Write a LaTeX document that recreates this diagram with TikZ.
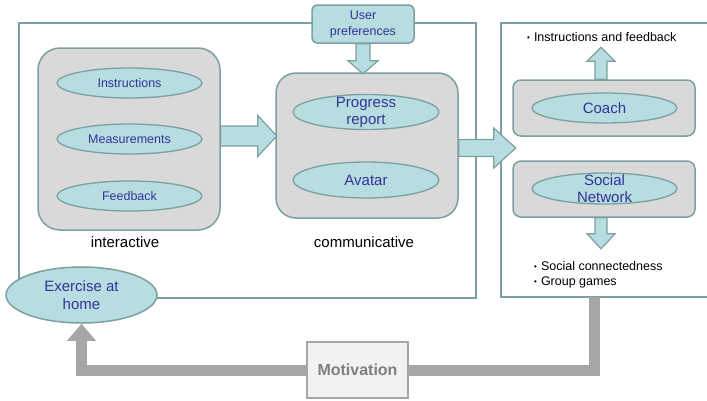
\documentclass[tikz,border=0pt]{standalone}
\usepackage{fontspec}
\setmainfont{Liberation Sans}
\usetikzlibrary{shapes.geometric,arrows.meta}

\definecolor{tealfill}{RGB}{183,221,224}
\definecolor{tealline}{RGB}{122,160,160}
\definecolor{boxgray}{RGB}{217,217,217}
\definecolor{textblue}{RGB}{51,51,153}
\definecolor{motgray}{RGB}{166,166,166}
\definecolor{motfill}{RGB}{242,242,242}
\definecolor{mottext}{RGB}{127,127,127}

\tikzset{
  outerbox/.style={draw=tealline, line width=1.5pt, inner sep=0pt},
  roundbox/.style={draw=tealline, line width=1.5pt, fill=boxgray, rounded corners=#1, inner sep=0pt},
  ell/.style={ellipse, draw=tealline, line width=1.3pt, fill=tealfill, inner sep=0pt,
    minimum width=145pt, minimum height=30pt, text=textblue, font=\fontsize{12.5}{14}\selectfont},
  elltext/.style={text=textblue, align=center, font=\fontsize{15}{17}\selectfont},
  lbl/.style={font=\fontsize{15}{17}\selectfont},
  note/.style={inner sep=0pt, align=left, font=\fontsize{12.5}{15}\selectfont},
  blockbody/.style={draw=tealline, line width=1.2pt, fill=tealfill, line join=miter},
  motline/.style={draw=motgray, line width=11pt},
}

% start, angle, length, shaft half width, head half width, head length
\newcommand{\blockarrow}[6]{%
  \draw[blockbody, shift={(#1)}, rotate=#2] (0,-#4) -- (#3-#6,-#4) -- (#3-#6,-#5) -- (#3,0)
    -- (#3-#6,#5) -- (#3-#6,#4) -- (0,#4) -- cycle;}
\newcommand{\bul}{\raisebox{0.8pt}{\fontsize{8}{8}\selectfont\textbullet}\hspace{4pt}}

\begin{document}
\begin{tikzpicture}[x=1pt,y=-1pt]
  \useasboundingbox (0,0) rectangle (707,400);

  % the two frames
  \node[outerbox, minimum width=457pt, minimum height=275pt] (left) at (247.5,160.5) {};
  \node[outerbox, minimum width=214pt, minimum height=274pt] (right) at (608,160) {};

  % interactive
  \node[roundbox=22pt, minimum width=182pt, minimum height=182pt] (inter) at (129,139) {};
  \node[ell] (instr) at (129.5,83) {Instructions};
  \node[ell] (meas) at (129.5,139) {Measurements};
  \node[ell] (feed) at (129.5,196) {Feedback};
  \node[lbl] (interlbl) at (125,242) {interactive};

  % communicative
  \node[roundbox=20pt, minimum width=182pt, minimum height=145pt] (comm) at (367,145.5) {};
  \node[ell, minimum width=146pt, minimum height=35pt] (prog) at (366,112) {};
  \node[elltext] (progtxt) at (prog) {Progress\\report};
  \node[ell, minimum width=146pt, minimum height=36pt, font=\fontsize{15}{17}\selectfont] (avatar) at (366,180) {Avatar};
  \node[lbl] (commlbl) at (364,242) {communicative};

  \node[draw=tealline, line width=1.5pt, fill=tealfill, rounded corners=5pt, minimum width=102pt,
    minimum height=38pt, inner sep=0pt, align=center, text=textblue,
    font=\fontsize{12.5}{16}\selectfont] (pref) at (363,24) {User\\preferences};

  % coach and social network
  \node[roundbox=8pt, minimum width=182pt, minimum height=56pt] (coachbox) at (604,108) {};
  \node[ell, font=\fontsize{15}{17}\selectfont] (coach) at (604.5,108) {Coach};
  \node[roundbox=8pt, minimum width=182pt, minimum height=56pt] (socbox) at (604,189) {};
  \node[ell, minimum height=31pt] (social) at (604.5,188.5) {};
  \node[elltext] (socialtxt) at (social) {Social\\Network};

  \node[note, anchor=west] (coachnote) at (527,37) {\bul Instructions and feedback};
  \node[note, anchor=west] (socnote) at (534,274.5) {\bul Social connectedness\\\bul Group games};

  % block arrows
  \blockarrow{[yshift=3pt]inter.east}{0}{56}{10}{20.5}{19}
  \blockarrow{pref.south}{-90}{30}{7}{15}{13}
  \blockarrow{[yshift=-2.5pt]comm.east}{0}{57}{8.5}{20}{22}
  \blockarrow{[xshift=-3pt]coachbox.north}{90}{32}{6}{14}{14}
  \blockarrow{[xshift=-3pt]socbox.south}{-90}{31}{6}{14}{15}

  % exercise at home and motivation loop
  \node[ellipse, draw=tealline, line width=1.5pt, fill=tealfill, minimum width=151pt, minimum height=56pt,
    inner sep=0pt, align=center, text=textblue, font=\fontsize{15}{18}\selectfont] (home) at (81.5,295) {Exercise at\\home};
  \node[draw=motgray, line width=1.5pt, fill=motfill, minimum width=101pt, minimum height=56pt,
    text=mottext, font=\fontsize{16}{18}\selectfont\bfseries] (motiv) at (357.5,370) {Motivation};
  \coordinate (drop) at (594.5,297);
  \draw[motline] (drop) |- (motiv.east);
  \draw[motline, -{Triangle[width=28pt,length=17pt]}] (motiv.west) -| (home.south);
\end{tikzpicture}
\end{document}
